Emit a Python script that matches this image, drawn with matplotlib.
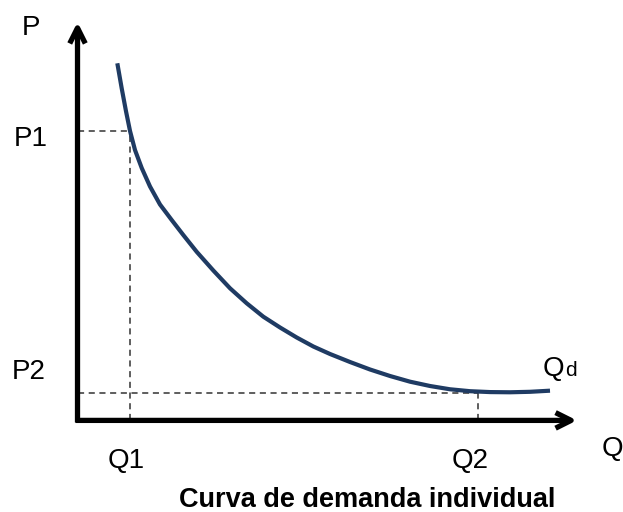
import matplotlib.pyplot as plt

# demand curve (Q, P in arbitrary units)
q_curve = [0.843, 0.930, 1.016, 1.096, 1.195, 1.329, 1.494, 1.693, 1.926, 2.157,
           2.424, 2.755, 3.088, 3.420, 3.751, 4.084, 4.416, 4.747, 5.080, 5.478,
           5.876, 6.275, 6.673, 7.072, 7.470, 7.869, 8.267, 8.665, 9.064, 9.462]
p_curve = [8.968, 8.343, 7.768, 7.275, 6.800, 6.350, 5.888, 5.438, 5.050, 4.675,
           4.255, 3.788, 3.343, 2.968, 2.633, 2.363, 2.113, 1.888, 1.700, 1.500,
           1.313, 1.150, 1.008, 0.900, 0.818, 0.770, 0.748, 0.743, 0.755, 0.783]

q1, p1 = 1.096, 7.275
q2, p2 = 8.022, 0.718
q_max, p_max = 10.0, 10.0

plt.rcParams['font.family'] = ['Liberation Sans', 'DejaVu Sans']

fig = plt.figure(figsize=(6.23, 5.12), dpi=100)
ax = fig.add_axes([0, 0, 1, 1])
ax.set_xlim(-1.494, 10.916)
ax.set_ylim(-2.25, 10.55)
ax.axis('off')

# axes with arrows
x0, y0 = 0.05, 0.04
arrow = dict(arrowstyle='->', lw=3.8, color='black', mutation_scale=28,
             shrinkA=0, shrinkB=0, capstyle='butt')
ax.annotate('', xy=(x0, p_max), xytext=(x0, y0 - 0.05), arrowprops=arrow)
ax.annotate('', xy=(q_max, y0), xytext=(x0 - 0.04, y0), arrowprops=arrow)

# dashed guides
dash = dict(color='#333333', lw=1.1, linestyle=(0, (4, 3)))
ax.plot([x0, q1], [p1, p1], **dash)
ax.plot([q1, q1], [y0, p1], **dash)
ax.plot([x0, q2], [p2, p2], **dash)
ax.plot([q2, q2], [y0, p2], **dash)

ax.plot(q_curve, p_curve, color='#1F3B63', lw=3, solid_capstyle='butt',
        solid_joinstyle='round')

fs = 20
ax.text(-0.886, 9.675, 'P', fontsize=fs, ha='center', va='baseline')
ax.text(-0.88, 6.89, 'P1', fontsize=fs, ha='center', va='baseline')
ax.text(-0.926, 1.075, 'P2', fontsize=fs, ha='center', va='baseline')
ax.text(1.026, -1.15, 'Q1', fontsize=fs, ha='center', va='baseline')
ax.text(7.88, -1.15, 'Q2', fontsize=fs, ha='center', va='baseline')
ax.text(10.5, -0.85, 'Q', fontsize=fs, ha='left', va='baseline')
ax.text(9.323, 1.15, 'Q', fontsize=fs, ha='left', va='baseline')
ax.text(9.761, 1.15, 'd', fontsize=15, ha='left', va='baseline')

ax.text(5.827, -2.125, 'Curva de demanda individual', fontsize=19.5,
        fontweight='bold', ha='center', va='baseline')

fig.savefig('out.png', dpi=100)
